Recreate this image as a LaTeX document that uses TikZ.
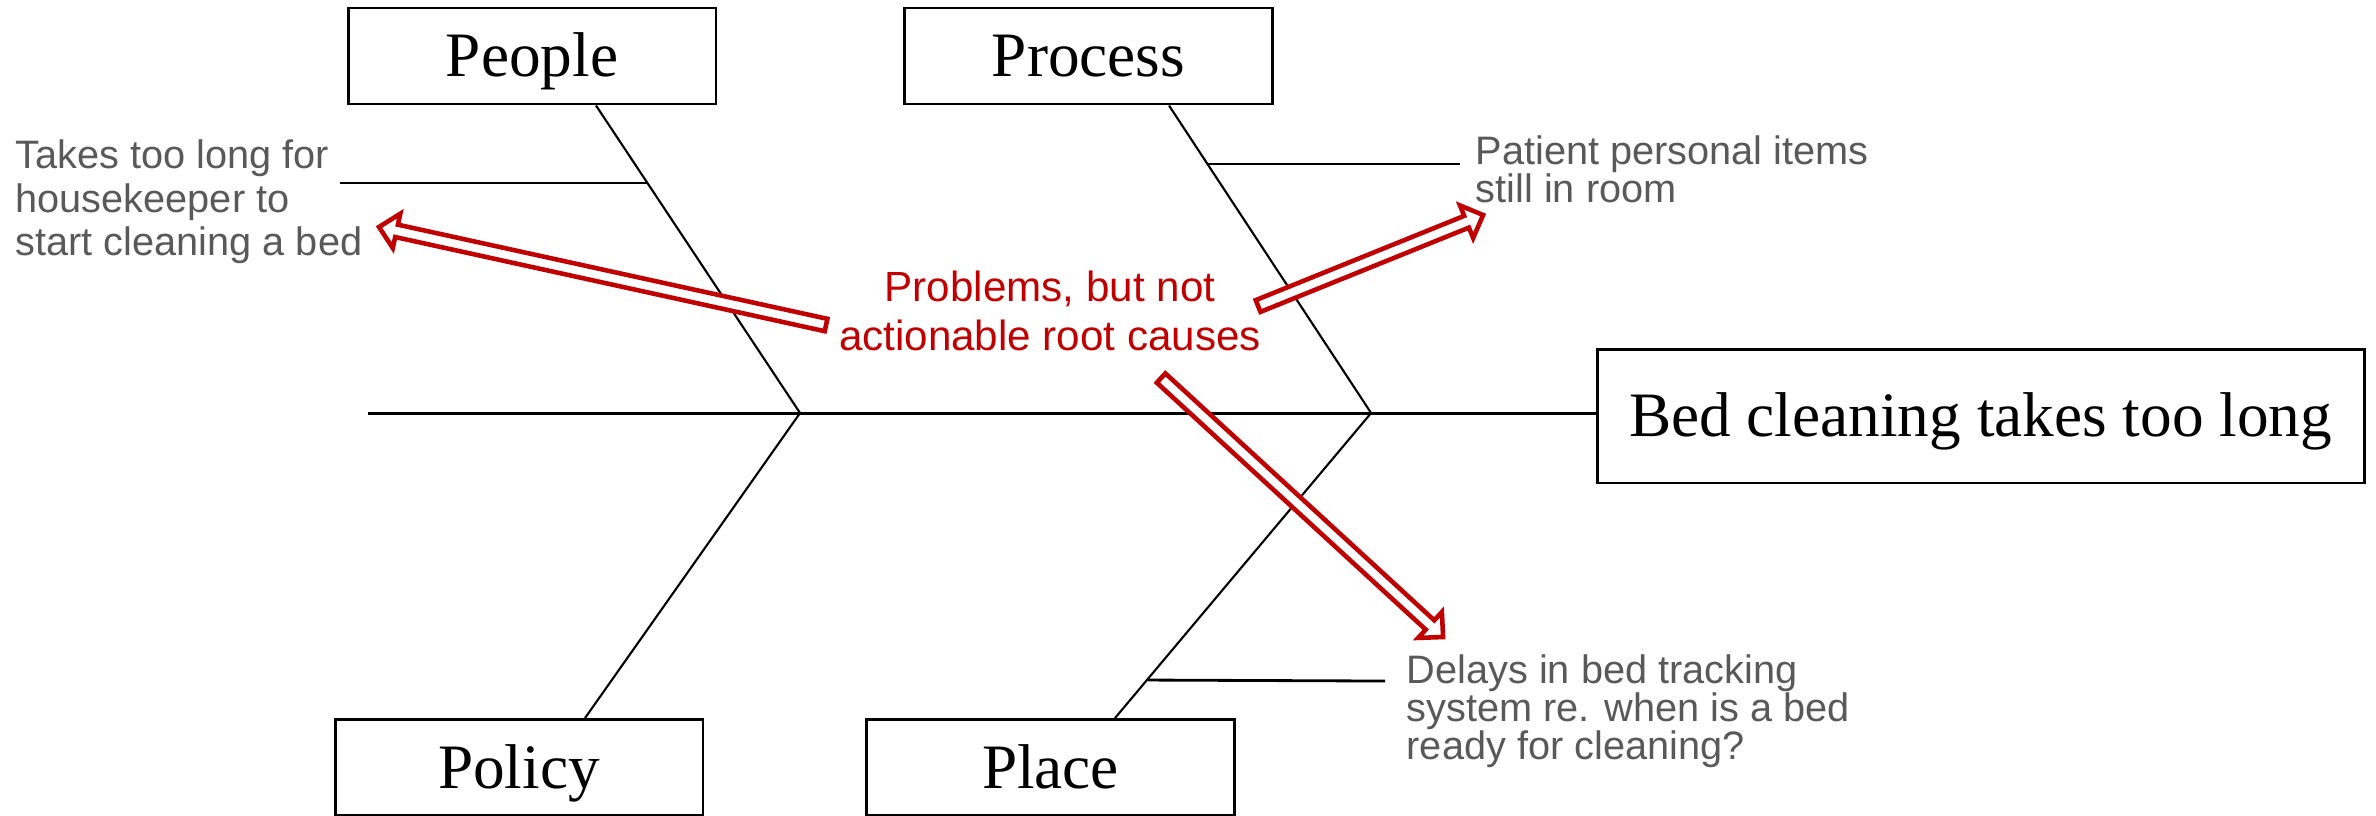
\documentclass[tikz,border=0pt]{standalone}
\usepackage{fontspec}
\setmainfont{Liberation Serif}
\newfontfamily\causefont{Liberation Sans}
\usetikzlibrary{calc}
\definecolor{causegray}{RGB}{89,89,89}
\definecolor{alertred}{RGB}{192,0,0}
\newcommand{\blockarrow}[2]{%
\coordinate (neck) at ($(#2)!51pt!(#1)$);
\draw [alertred, line width=1.3pt, fill=white] ($(#1)!18pt!90:(#2)$) -- ($(neck)!18pt!-90:(#1)$) -- ($(neck)!50pt!-90:(#1)$) -- (#2) -- ($(neck)!50pt!90:(#1)$) -- ($(neck)!18pt!90:(#1)$) -- ($(#1)!18pt!-90:(#2)$) -- cycle;}
\begin{document}
\begin{tikzpicture}[scale=0.1]
\tikzstyle{every node}+=[inner sep=0pt]
\tikzstyle{category}=[draw=black, line width=0.85pt, minimum width=3.68cm, minimum height=0.96cm, text height=11.9pt, text depth=0pt, font=\fontsize{18}{20}\selectfont]
\tikzstyle{cause}=[anchor=north west, align=left, text=causegray]
\useasboundingbox (0,0) rectangle (237.6,-81.6);
\node [category] (people) at (53.2,-5.6) {People};
\node [category] (process) at (108.85,-5.6) {Process};
\node [category] (policy) at (51.9,-76.75) {Policy};
\node [category] (place) at (105.05,-76.75) {Place};
\node [category, minimum width=7.67cm, minimum height=1.34cm] (effect) at (198.05,-41.6) {Bed cleaning takes too long};
\coordinate (head) at (36.8,-41.3);
\coordinate (j1) at (80.0,-41.3);
\coordinate (j2) at (137.1,-41.3);
\draw [black, line width=0.85pt] (head) -- (head -| effect.west);
\draw [black, line width=0.6pt] (j1) -- (59.6,0 |- people.south);
\draw [black, line width=0.6pt] (j1) -- (58.5,0 |- policy.north);
\draw [black, line width=0.6pt] (j2) -- (116.9,0 |- process.south);
\draw [black, line width=0.6pt] (j2) -- (111.5,0 |- place.north);
\coordinate (b1) at (64.8,-18.3);
\coordinate (b1end) at (34.0,-18.3);
\coordinate (b2) at (120.8,-16.4);
\coordinate (b2end) at (146.0,-16.4);
\coordinate (b3) at (114.8,-68.0);
\coordinate (b3end) at (138.5,-68.1);
\draw [black, line width=0.8pt] (b1) -- (b1end);
\draw [black, line width=0.8pt] (b2) -- (b2end);
\draw [black, line width=0.8pt] (b3) -- (b3end);
\node [cause, font=\causefont\fontsize{11.3}{12.4}\selectfont] (wait) at (1.5,-13.9) {Takes too long for\\housekeeper to\\start cleaning a bed};
\node [cause, font=\causefont\fontsize{11.3}{10.8}\selectfont] (items) at (147.5,-13.5) {Patient personal items\\still in room};
\node [cause, font=\causefont\fontsize{11.3}{10.8}\selectfont] (tracking) at (140.6,-65.4) {Delays in bed tracking\\system re. when is a bed\\ready for cleaning?};
\node [text=alertred, align=center, font=\causefont\fontsize{12}{14}\selectfont] (note) at (105.0,-31.1) {Problems, but not\\actionable root causes};
\coordinate (t1) at (82.6,-32.5);
\coordinate (p1) at (37.9,-22.7);
\coordinate (t2) at (125.8,-30.6);
\coordinate (p2) at (148.3,-21.5);
\coordinate (t3) at (116.1,-37.8);
\coordinate (p3) at (144.3,-63.7);
\blockarrow{t1}{p1}
\blockarrow{t2}{p2}
\blockarrow{t3}{p3}
\end{tikzpicture}
\end{document}
